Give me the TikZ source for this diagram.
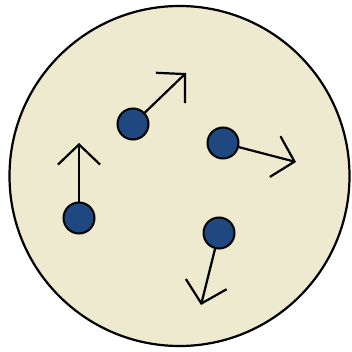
\documentclass[tikz,border=0pt]{standalone}
\usetikzlibrary{arrows.meta}
\definecolor{beige}{RGB}{237,234,208}
\definecolor{dotblue}{RGB}{31,72,128}
\tikzset{
  particle/.style={circle,draw=black,line width=2pt,fill=dotblue,minimum size=31pt,inner sep=0pt},
  velo/.style={line width=2.2pt,-{Straight Barb[length=20pt,width=42pt,line join=miter]}}
}
\begin{document}
\begin{tikzpicture}[x=1pt,y=-1pt]
\useasboundingbox (0,0) rectangle (351,352);
\node[circle,draw=black,line width=2.2pt,fill=beige,minimum size=340pt,inner sep=0pt] (vessel) at (179.5,176) {};
\node[particle] (p1) at (133,124) {};
\node[particle] (p2) at (223,143) {};
\node[particle] (p3) at (79,218) {};
\node[particle] (p4) at (219,233) {};
\coordinate (t1) at (186,73);
\coordinate (t2) at (296,162);
\coordinate (t3) at (79,143);
\coordinate (t4) at (201,305);
\draw[velo] (p1) -- (t1);
\draw[velo] (p2) -- (t2);
\draw[velo] (p3) -- (t3);
\draw[velo] (p4) -- (t4);
\end{tikzpicture}
\end{document}
